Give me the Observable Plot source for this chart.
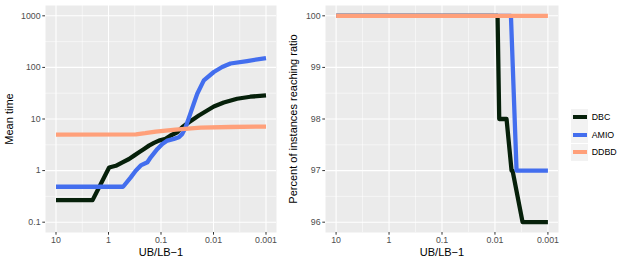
<!DOCTYPE html>
<html>
<head>
<meta charset="utf-8">
<script src="https://cdn.jsdelivr.net/npm/d3@7"></script>
<script src="https://cdn.jsdelivr.net/npm/@observablehq/plot@0.6"></script>
<style>
  body { margin: 0; background: #ffffff; }
  #chart { position: relative; width: 623px; height: 264px; font-family: "Liberation Sans", Arial, Helvetica, sans-serif; }
  #left, #right { position: absolute; top: 0; }
  #left { left: 0; }
  #right { left: 280px; }
  #legend { position: absolute; left: 571px; top: 108.6px; }
  .row { display: flex; align-items: center; height: 17.5px; }
  .key { width: 17.3px; height: 17.3px; background: #F2F2F2; position: relative; }
  .ln { position: absolute; left: 1.7px; right: 1.7px; top: 6.5px; height: 4.3px; }
  .lbl { margin-left: 3.4px; font-size: 8.8px; color: #000; }
</style>
</head>
<body>
<div id="chart">
  <div id="left"></div>
  <div id="right"></div>
  <div id="legend"></div>
</div>
<script>
// ---- series ----
const seriesNames = ["DBC", "AMIO", "DDBD"];
const seriesColors = ["#06200a", "#436EEE", "#FFA07A"];

// ---- left panel: mean time vs UB/LB-1 ----
const dbcGapX  = [10, 2.01, 0.973, 0.726, 0.542, 0.406, 0.326, 0.262, 0.2104, 0.1694, 0.136, 0.1094, 0.0817, 0.0656, 0.0489, 0.0393, 0.0294, 0.019, 0.00986, 0.00637, 0.00355, 0.00199, 0.001];
const dbcTime  = [0.268, 0.268, 1.15, 1.24, 1.45, 1.68, 1.95, 2.26, 2.63, 3.05, 3.44, 3.82, 4.12, 4.78, 5.53, 6.92, 8.66, 11.7, 17.5, 20.9, 24.7, 27.0, 28.7];
const amioGapX = [10, 0.527, 0.377, 0.303, 0.243, 0.1815, 0.157, 0.117, 0.0942, 0.0757, 0.0567, 0.0456, 0.0393, 0.034, 0.0274, 0.0237, 0.0204, 0.01528, 0.00986, 0.00684, 0.00475, 0.00229, 0.001];
const amioTime = [0.486, 0.486, 0.738, 0.995, 1.26, 1.45, 1.81, 2.63, 3.29, 3.82, 4.12, 4.43, 5.15, 6.92, 13, 20, 30.9, 56.1, 81.5, 102, 119, 133, 152];
const ddbdGapX = [10, 0.3, 0.2, 0.126, 0.0527, 0.0177, 0.00475, 0.001];
const ddbdTime = [5.0, 5.02, 5.3, 5.7, 6.25, 6.8, 7.0, 7.14];

// ---- right panel: percent of instances reaching ratio ----
const dbcPctX  = [10, 0.00893, 0.0083, 0.00604, 0.00486, 0.00465, 0.00301, 0.001];
const dbcPct   = [100, 100, 98, 98, 97, 97, 96, 96];
const amioPctX = [10, 0.00499, 0.00391, 0.001];
const amioPct  = [100, 100, 97, 97];
const ddbdPctX = [10, 0.001];
const ddbdPct  = [100, 100];

// ---- axes ----
const xTicks = [10, 1, 0.1, 0.01, 0.001];
const xTickLabels = ["10", "1", "0.1", "0.01", "0.001"];
const xMinor = [3.1623, 0.31623, 0.031623, 0.0031623];
const timeTicks = [0.1, 1, 10, 100, 1000];
const timeTickLabels = ["0.1", "1", "10", "100", "1000"];
const timeMinor = [0.31623, 3.1623, 31.623, 316.23];
const pctTicks = [96, 97, 98, 99, 100];
const pctTickLabels = ["96", "97", "98", "99", "100"];
const pctMinor = [96.5, 97.5, 98.5, 99.5];
const xTitle = "UB/LB\u22121";
const timeTitle = "Mean time";
const pctTitle = "Percent of instances reaching ratio";

function rows(xs, ys) { return xs.map((x, i) => ({x, y: ys[i]})); }

const leftData = [rows(dbcGapX, dbcTime), rows(amioGapX, amioTime), rows(ddbdGapX, ddbdTime)];
const rightData = [rows(dbcPctX, dbcPct), rows(amioPctX, amioPct), rows(ddbdPctX, ddbdPct)];

const font = '"Liberation Sans", Arial, Helvetica, sans-serif';

function panel({width, marginRight, y, yTicks, yTickLabels, yMinor, yTitle, titleDx, data}) {
  return Plot.plot({
    width, height: 264,
    marginLeft: 45, marginRight, marginTop: 5, marginBottom: 32,
    x: {type: "log", domain: [10 ** 1.2, 10 ** -3.2]},
    y,
    style: {fontFamily: font, fontSize: "8.8px", color: "#4D4D4D", background: "transparent", overflow: "visible"},
    marks: [
      Plot.frame({fill: "#EBEBEB", stroke: null}),
      Plot.ruleX(xMinor, {stroke: "#ffffff", strokeWidth: 0.53}),
      Plot.ruleY(yMinor, {stroke: "#ffffff", strokeWidth: 0.53}),
      Plot.ruleX(xTicks, {stroke: "#ffffff", strokeWidth: 1.07}),
      Plot.ruleY(yTicks, {stroke: "#ffffff", strokeWidth: 1.07}),
      Plot.axisX({ticks: xTicks, tickFormat: d => xTickLabels[xTicks.indexOf(d)], tickSize: 2.7, tickPadding: 1.6, stroke: "#333333", fill: "#4D4D4D", label: null}),
      Plot.axisY({ticks: yTicks, tickFormat: d => yTickLabels[yTicks.indexOf(d)], tickSize: 2.7, tickPadding: 2.2, stroke: "#333333", fill: "#4D4D4D", label: null}),
      ...data.map((d, i) => Plot.line(d, {x: "x", y: "y", stroke: seriesColors[i], strokeWidth: 4.27, strokeLinejoin: "round", strokeLinecap: "butt"})),
      Plot.text([yTitle], {frameAnchor: "left", dx: titleDx, rotate: -90, textAnchor: "middle", lineAnchor: "middle", fontSize: 11, fill: "#000000"}),
      Plot.text([xTitle], {frameAnchor: "bottom", dy: 20, textAnchor: "middle", lineAnchor: "middle", fontSize: 11, fill: "#000000"})
    ]
  });
}

document.getElementById("left").append(panel({
  width: 280, marginRight: 4,
  y: {type: "log", domain: [10 ** -1.2, 10 ** 3.2]},
  yTicks: timeTicks, yTickLabels: timeTickLabels, yMinor: timeMinor,
  yTitle: timeTitle, titleDx: -36.3, data: leftData
}));

document.getElementById("right").append(panel({
  width: 281, marginRight: 3,
  y: {type: "linear", domain: [95.8, 100.2]},
  yTicks: pctTicks, yTickLabels: pctTickLabels, yMinor: pctMinor,
  yTitle: pctTitle, titleDx: -32.5, data: rightData
}));

const legend = document.getElementById("legend");
seriesNames.forEach((name, i) => {
  const row = document.createElement("div");
  row.className = "row";
  row.innerHTML = `<span class="key"><span class="ln" style="background:${seriesColors[i]}"></span></span><span class="lbl">${name}</span>`;
  legend.append(row);
});
</script>
</body>
</html>
